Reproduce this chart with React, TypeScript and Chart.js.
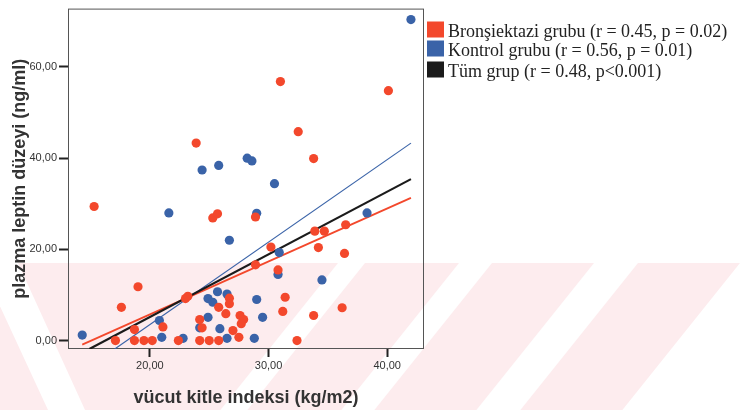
import React, { useEffect, useRef } from 'react';
import { Chart, registerables } from 'chart.js';

Chart.register(...registerables);

// ---- data ----
const redX = [15.3, 17.1, 17.6, 18.7, 19.0, 18.7, 19.5, 20.2, 21.1, 22.4, 23.0, 23.2, 24.2, 24.2, 24.4, 25.0, 25.8,
  25.3, 25.7, 25.8, 26.4, 26.7, 26.7, 27.0, 27.5, 27.6, 27.9, 27.7, 28.9, 28.9, 30.2, 30.8, 31.2, 31.4, 32.4,
  33.8, 33.9, 34.2, 34.7, 36.4, 36.5, 36.2, 23.9, 31.0, 40.1, 32.5, 33.8];
const redY = [29.4, 0, 7.3, 2.4, 11.8, 0, 0, 0, 3.0, 0, 9.2, 9.7, 0, 4.6, 2.8, 0, 0,
  26.9, 27.8, 7.3, 5.9, 9.3, 8.1, 2.2, 0.7, 5.5, 4.6, 3.7, 27.1, 16.6, 20.5, 15.5, 6.4, 9.5, 0,
  5.5, 24.0, 20.4, 24.0, 19.1, 25.4, 7.2, 43.3, 56.8, 54.8, 45.8, 39.9];

const blueX = [14.3, 20.8, 21.0, 21.6, 22.8, 24.2, 24.9, 24.9, 25.3, 25.7, 25.9, 26.5, 26.5, 26.7, 28.8, 29.0,
  29.0, 29.5, 30.8, 30.9, 34.5, 38.3, 30.5, 24.4, 25.8, 28.2, 28.6, 42.0];
const blueY = [1.2, 4.4, 0.7, 28.0, 0.5, 2.8, 5.1, 9.2, 8.4, 10.7, 2.6, 10.2, 0.5, 22.0, 0.5, 27.9,
  9.0, 5.1, 14.5, 19.3, 13.3, 28.0, 34.4, 37.4, 38.4, 40.0, 39.4, 70.4];

// fit lines (end points)
const fitRedX = [14.3, 42.0];
const fitRedY = [-0.9, 31.3];
const fitBlueX = [16.9, 42.0];
const fitBlueY = [-2.1, 43.3];
const fitAllX = [14.9, 42.0];
const fitAllY = [-1.85, 35.4];

const xTicks = [20, 30, 40];
const yTicks = [0, 20, 40, 60];
const xRange = [13.1, 43.1];
const yRange = [-1.85, 72.8];

const legendLabels = [
  'Bronşiektazi grubu (r = 0.45, p = 0.02)',
  'Kontrol grubu (r = 0.56, p = 0.01)',
  'Tüm grup (r = 0.48, p<0.001)',
];
const xTitle = 'vücut kitle indeksi (kg/m2)';
const yTitle = 'plazma leptin düzeyi (ng/ml)';

const RED = '#f3482c';
const BLUE = '#3a63a8';
const BLACK = '#1b1b1b';
const legendColors = [RED, BLUE, BLACK];

const pts = (xs: number[], ys: number[]) => xs.map((x, i) => ({ x, y: ys[i] }));

const watermark = {
  id: 'watermark',
  beforeDraw(chart: any) {
    const ctx = chart.ctx as CanvasRenderingContext2D;
    const top = 263, bot = 410, sh = -0.8 * (bot - top);
    ctx.save();
    ctx.fillStyle = '#fdecee';
    ctx.fillRect(0, top, 740, bot - top);
    ctx.fillStyle = '#ffffff';
    // "\" stripe on the left
    ctx.beginPath();
    ctx.moveTo(-20, top); ctx.lineTo(18, top); ctx.lineTo(85, bot); ctx.lineTo(48, bot); ctx.closePath();
    ctx.fill();
    // "/" stripes
    const stripes = [[338, 365], [459, 492], [594, 638], [740, 900]];
    for (const [a, b] of stripes) {
      ctx.beginPath();
      ctx.moveTo(a, top); ctx.lineTo(b, top); ctx.lineTo(b + sh, bot); ctx.lineTo(a + sh, bot); ctx.closePath();
      ctx.fill();
    }
    ctx.restore();
  },
};

const frameAndLegend = {
  id: 'frameAndLegend',
  beforeDatasetsDraw(chart: any) {
    const { ctx, chartArea } = chart;
    ctx.save();
    ctx.strokeStyle = '#555555';
    ctx.lineWidth = 1;
    ctx.strokeRect(chartArea.left + 0.5, chartArea.top + 0.5, chartArea.right - chartArea.left - 1, chartArea.bottom - chartArea.top - 1);
    ctx.restore();
  },
  afterDraw(chart: any) {
    const ctx = chart.ctx as CanvasRenderingContext2D;
    ctx.save();
    ctx.font = '18px "Liberation Serif", serif';
    ctx.textBaseline = 'alphabetic';
    ctx.textAlign = 'left';
    const centers = [29.5, 48.5, 69.5];
    legendLabels.forEach((t, i) => {
      ctx.fillStyle = legendColors[i];
      ctx.fillRect(427, centers[i] - 8, 17, 16);
      ctx.fillStyle = '#222222';
      ctx.fillText(t, 448, centers[i] + 7);
    });
    ctx.restore();
  },
};

export default function App() {
  const ref = useRef<HTMLCanvasElement | null>(null);

  useEffect(() => {
    if (!ref.current) return;
    const fmt = (v: any) => Number(v).toFixed(2).replace('.', ',');
    const chart = new Chart(ref.current, {
      type: 'scatter',
      data: {
        datasets: [
          { label: legendLabels[0], data: pts(redX, redY), backgroundColor: RED, borderWidth: 0, pointRadius: 4.6, order: 0 },
          { label: legendLabels[1], data: pts(blueX, blueY), backgroundColor: BLUE, borderWidth: 0, pointRadius: 4.6, order: 1 },
          { label: 'fitAll', data: pts(fitAllX, fitAllY), showLine: true, borderColor: BLACK, borderWidth: 2.2, pointRadius: 0, order: 2 },
          { label: 'fitRed', data: pts(fitRedX, fitRedY), showLine: true, borderColor: RED, borderWidth: 1.8, pointRadius: 0, order: 3 },
          { label: 'fitBlue', data: pts(fitBlueX, fitBlueY), showLine: true, borderColor: BLUE, borderWidth: 1.2, pointRadius: 0, order: 4 },
        ],
      },
      options: {
        responsive: false,
        animation: false,
        events: [],
        layout: { padding: { left: 8, right: 316, top: 2, bottom: 1 } },
        plugins: { legend: { display: false }, tooltip: { enabled: false } },
        scales: {
          x: {
            type: 'linear',
            min: xRange[0],
            max: xRange[1],
            afterFit: (s: any) => { s.height = 60; },
            afterBuildTicks: (s: any) => { s.ticks = xTicks.map((v) => ({ value: v })); },
            grid: { drawOnChartArea: false, drawTicks: true, tickLength: 8, tickColor: '#222', tickWidth: 2 },
            border: { display: false },
            ticks: { padding: 2, color: '#333', font: { size: 11, family: 'Liberation Sans' }, callback: fmt },
            title: { display: true, text: xTitle, color: '#333', padding: { top: 0, bottom: 0 }, font: { size: 18, weight: 'bold', family: 'Liberation Sans' } },
          },
          y: {
            type: 'linear',
            min: yRange[0],
            max: yRange[1],
            afterFit: (s: any) => { s.width = 60; },
            afterBuildTicks: (s: any) => { s.ticks = yTicks.map((v) => ({ value: v })); },
            grid: { drawOnChartArea: false, drawTicks: true, tickLength: 9, tickColor: '#222', tickWidth: 2 },
            border: { display: false },
            ticks: { padding: 2, color: '#333', font: { size: 11, family: 'Liberation Sans' }, callback: fmt },
            title: { display: true, text: yTitle, color: '#333', padding: { top: 1, bottom: 0 }, font: { size: 18, weight: 'bold', family: 'Liberation Sans' } },
          },
        },
      },
      plugins: [watermark, frameAndLegend],
    } as any);
    return () => chart.destroy();
  }, []);

  return (
    <div style={{ position: 'absolute', left: 0, top: 0, width: 740, height: 410 }}>
      <canvas ref={ref} width={740} height={410} style={{ width: 740, height: 410 }} />
    </div>
  );
}
